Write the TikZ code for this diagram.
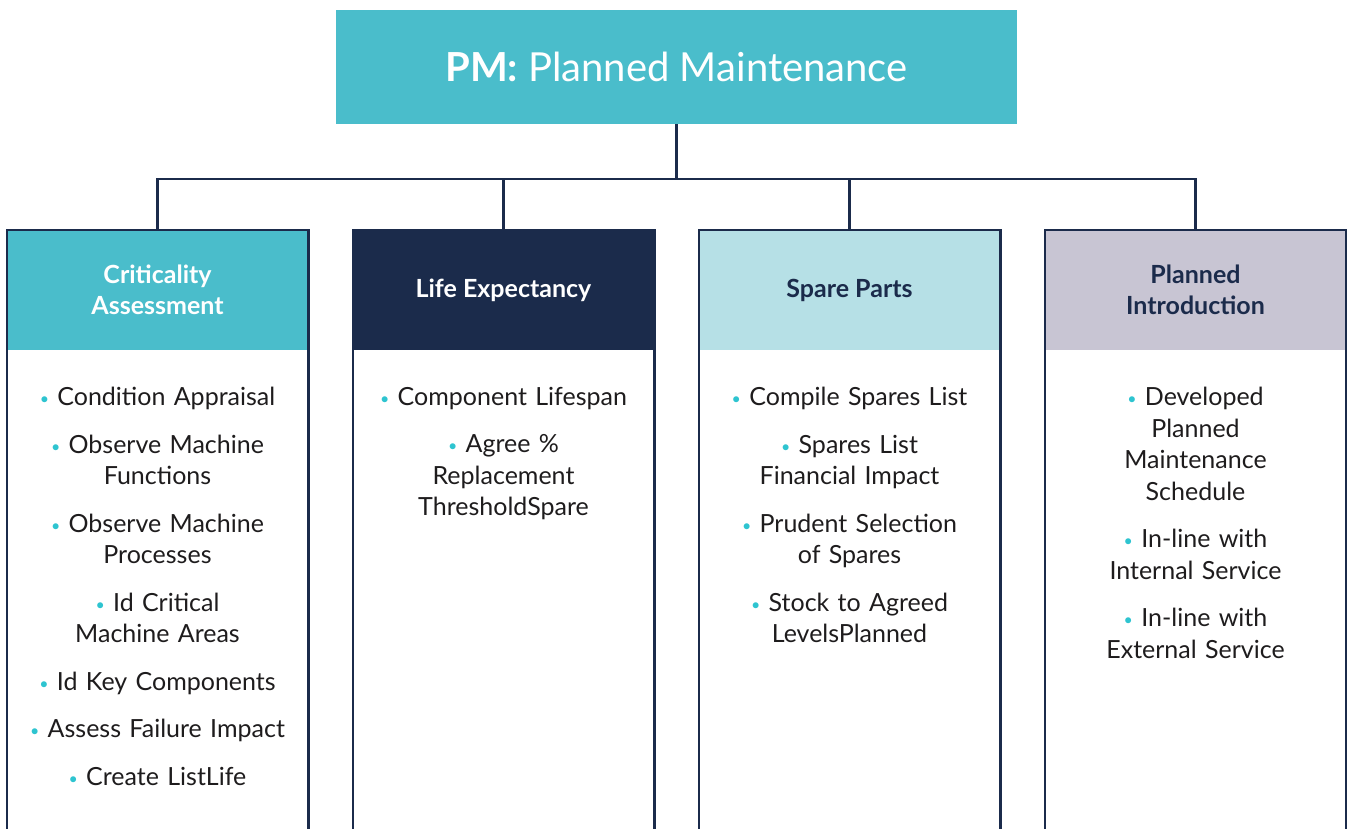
\documentclass[tikz,border=0pt]{standalone}
\usepackage{fontspec}
\setmainfont{Lato}
\definecolor{tealc}{HTML}{4ABDCB}
\definecolor{navyc}{HTML}{1B2B4B}
\definecolor{lightc}{HTML}{B6E0E6}
\definecolor{lavc}{HTML}{C8C5D3}
\definecolor{txtc}{HTML}{1E1C1D}
\definecolor{bulc}{HTML}{2EC4D0}
\newcommand\bul{{\color{bulc}\fontsize{16}{16}\selectfont\raisebox{0.12ex}{•}}\ }
\begin{document}
\begin{tikzpicture}[x=1pt,y=-1pt,
  hdr/.style={minimum width=301pt, minimum height=120pt, anchor=north, align=center,
    font=\fontsize{25}{31}\selectfont\bfseries, inner sep=0pt},
  body/.style={anchor=north, align=center, text width=298pt,
    font=\fontsize{25}{31.5}\selectfont, text=txtc, inner sep=0pt},
  conn/.style={draw=navyc, line width=2.5pt},
  colb/.style={draw=navyc, line width=2.6pt},
]
\useasboundingbox (0,0) rectangle (1347,829);
\coordinate (bottom) at (0,845);

% top box
\node[fill=tealc, minimum width=681pt, minimum height=114pt, inner sep=0pt,
  text=white, font=\fontsize{40}{42}\selectfont] (top) at (676.5,67)
  {\raisebox{-3pt}{\textbf{PM:} Planned Maintenance}};

% headers
\node[hdr, fill=tealc, text=white] (h1) at (157.5,230) {Criticality\\Assessment};
\node[hdr, fill=navyc, text=white] (h2) at (503.5,230) {Life Expectancy};
\node[hdr, fill=lightc, text=navyc] (h3) at (849.5,230) {Spare Parts};
\node[hdr, fill=lavc, text=navyc] (h4) at (1195.5,230) {Planned\\Introduction};

% column borders
\foreach \h in {h1,h2,h3,h4}{
  \draw[colb] (\h.north west |- bottom) -- (\h.north west) -- (\h.north east) -- (\h.north east |- bottom);
}

% connectors
\draw[conn] (top.south) -- ++(0,55) coordinate (j);
\draw[conn] (h1.north) |- (j) -| (h4.north);
\draw[conn] (h2.north) -- (h2.north |- j);
\draw[conn] (h3.north) -- (h3.north |- j);

% bodies
\node[body] (b1) at (157.5,387) {\bul Condition Appraisal\\[16pt]
  \bul Observe Machine\\ Functions\\[16pt]
  \bul Observe Machine\\ Processes\\[16pt]
  \bul Id Critical\\ Machine Areas\\[16pt]
  \bul Id Key Components\\[16pt]
  \bul Assess Failure Impact\\[16pt]
  \bul Create ListLife};
\node[body] (b2) at (503.5,387) {\bul Component Lifespan\\[16pt]
  \bul Agree \%\\ Replacement\\ ThresholdSpare};
\node[body] (b3) at (849.5,387) {\bul Compile Spares List\\[16pt]
  \bul Spares List\\ Financial Impact\\[16pt]
  \bul Prudent Selection\\ of Spares\\[16pt]
  \bul Stock to Agreed\\ LevelsPlanned};
\node[body] (b4) at (1195.5,387) {\bul Developed\\ Planned\\ Maintenance\\ Schedule\\[16pt]
  \bul In-line with\\ Internal Service\\[16pt]
  \bul In-line with\\ External Service};
\end{tikzpicture}
\end{document}
